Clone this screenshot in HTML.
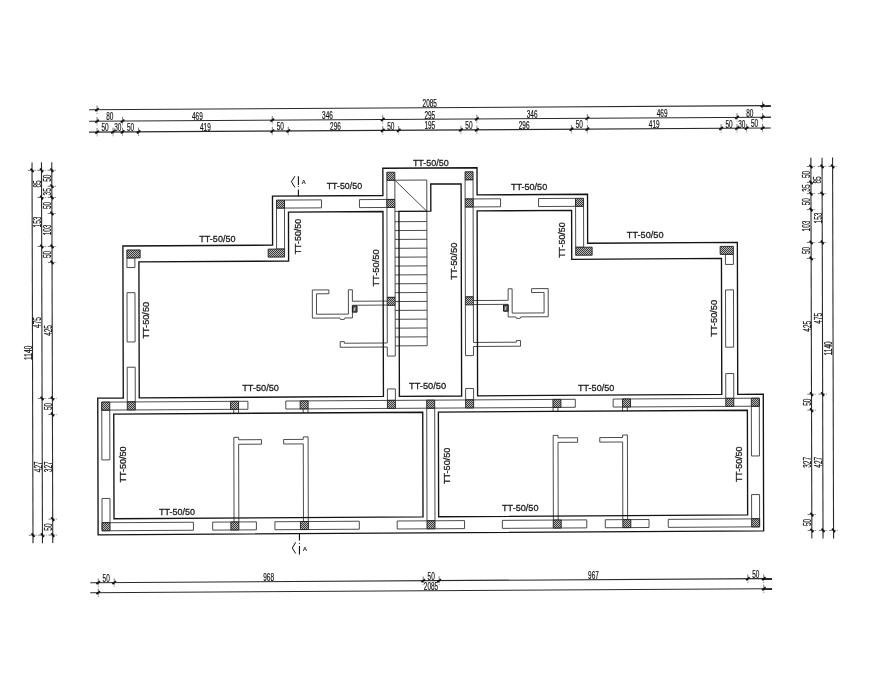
<!DOCTYPE html><html><head><meta charset="utf-8"><style>html,body{margin:0;padding:0;background:#fff}svg{display:block;filter:grayscale(1)}</style></head><body><svg width="869" height="698" viewBox="0 0 869 698">
<defs><pattern id="hp" patternUnits="userSpaceOnUse" width="2" height="2"><rect width="2" height="2" fill="#b8b8b8"/><rect width="1" height="1" fill="#3a3a3a"/><rect x="1" y="1" width="1" height="1" fill="#3a3a3a"/></pattern></defs>
<rect width="869" height="698" fill="#fff"/>
<style>.tk{fill:none;stroke:#141414;stroke-width:1.35;stroke-linejoin:miter}.tn{fill:none;stroke:#383838;stroke-width:0.9}.hc{fill:url(#hp);stroke:#1e1e1e;stroke-width:0.9}.sy{fill:#606060;stroke:#1a1a1a;stroke-width:1}.dl{fill:none;stroke:#2a2a2a;stroke-width:1.1}.tkx{fill:none;stroke:#111;stroke-width:1.8}.tv{fill:none;stroke:#555;stroke-width:0.8;stroke-dasharray:3 0.8}.lb{font-family:"Liberation Sans",sans-serif;fill:#1a1a1a;stroke:#1a1a1a;stroke-width:0.28}.dt{font-family:"Liberation Sans",sans-serif;fill:#111;stroke:#111;stroke-width:0.2;font-size:11px}</style>
<polygon class="tn" points="126.91,257.98 134.89,257.93 134.92,267.53 126.94,267.58"/>
<polygon class="tn" points="127.00,292.70 134.98,292.65 135.11,341.93 127.13,341.98"/>
<polygon class="tn" points="127.20,367.26 135.18,367.21 135.27,401.93 127.29,401.98"/>
<polygon class="tn" points="725.41,254.38 733.39,254.33 733.42,264.41 725.44,264.46"/>
<polygon class="tn" points="725.51,289.93 733.49,289.89 733.64,347.17 725.66,347.21"/>
<polygon class="tn" points="725.72,373.58 733.70,373.53 733.77,398.33 725.79,398.38"/>
<polygon class="tn" points="276.49,208.12 284.47,208.07 284.58,249.03 276.60,249.08"/>
<polygon class="tn" points="575.58,206.32 583.56,206.27 583.67,247.23 575.69,247.28"/>
<polygon class="tn" points="284.45,200.07 321.48,199.85 321.50,207.85 284.47,208.07"/>
<polygon class="tn" points="538.53,198.55 575.56,198.32 575.58,206.32 538.56,206.55"/>
<polygon class="tn" points="359.46,199.62 386.91,199.46 386.94,207.46 359.48,207.62"/>
<polygon class="tn" points="473.10,198.94 500.55,198.77 500.57,206.77 473.12,206.94"/>
<polygon class="tn" points="386.87,180.26 394.85,180.21 394.89,199.41 386.91,199.46"/>
<polygon class="tn" points="465.07,179.79 473.05,179.74 473.10,198.94 465.12,198.99"/>
<polygon class="tn" points="386.94,207.46 394.92,207.41 395.15,297.33 387.17,297.38"/>
<polygon class="tn" points="465.14,206.99 473.12,206.94 473.35,296.86 465.37,296.91"/>
<polygon class="tn" points="387.41,388.96 395.39,388.91 395.42,400.37 387.44,400.42"/>
<polygon class="tn" points="465.61,388.49 473.59,388.44 473.62,399.90 465.64,399.95"/>
<polygon class="tn" points="101.75,402.14 247.91,401.26 247.93,409.26 101.77,410.14"/>
<polygon class="tn" points="613.14,399.06 759.30,398.18 759.32,406.18 613.16,407.06"/>
<polygon class="tn" points="285.77,401.03 575.29,399.29 575.31,407.29 285.79,409.03"/>
<polygon class="tn" points="101.77,410.14 109.75,410.09 109.88,459.85 101.90,459.90"/>
<polygon class="tn" points="751.34,406.23 759.32,406.18 759.45,455.94 751.47,455.99"/>
<polygon class="tn" points="102.00,498.49 109.98,498.44 110.05,522.73 102.07,522.78"/>
<polygon class="tn" points="751.57,494.58 759.55,494.53 759.62,518.82 751.64,518.87"/>
<polygon class="tn" points="102.07,522.78 193.42,522.23 193.44,530.23 102.09,530.78"/>
<polygon class="tn" points="668.26,519.37 759.62,518.82 759.64,526.82 668.28,527.37"/>
<polygon class="tn" points="212.67,522.11 256.40,521.85 256.42,529.85 212.69,530.11"/>
<polygon class="tn" points="605.28,519.75 649.01,519.49 649.04,527.49 605.30,527.75"/>
<polygon class="tn" points="274.91,521.74 359.31,521.23 359.33,529.23 274.93,529.74"/>
<polygon class="tn" points="502.37,520.37 586.77,519.86 586.79,527.86 502.39,528.37"/>
<polygon class="tn" points="397.17,521.00 464.52,520.60 464.54,528.60 397.19,529.00"/>
<polygon class="tn" points="426.72,408.18 434.70,408.13 434.99,520.77 427.01,520.82"/>
<polyline class="tn" points="234.05,521.98 233.83,437.34 238.62,437.31 238.63,439.78 261.48,439.64 261.50,444.15 238.64,444.29 238.84,521.95"/>
<polyline class="tn" points="627.63,519.61 627.41,434.97 622.62,435.00 622.63,437.47 599.77,437.60 599.78,442.12 622.64,441.98 622.84,519.64"/>
<polyline class="tn" points="233.76,409.34 233.77,413.34"/>
<polyline class="tn" points="627.34,406.97 627.35,410.97"/>
<polyline class="tn" points="238.55,409.31 238.56,413.31"/>
<polyline class="tn" points="622.55,407.00 622.56,411.00"/>
<polyline class="tn" points="308.30,521.54 308.08,436.90 303.26,436.92 303.27,439.39 283.64,439.51 283.65,444.02 303.28,443.90 303.48,521.56"/>
<polyline class="tn" points="553.38,520.06 553.16,435.42 557.98,435.39 557.99,437.86 577.62,437.74 577.63,442.25 558.00,442.37 558.20,520.03"/>
<polyline class="tn" points="303.19,408.92 303.20,412.92"/>
<polyline class="tn" points="557.91,407.39 557.92,411.39"/>
<polyline class="tn" points="308.01,408.90 308.02,412.90"/>
<polyline class="tn" points="553.09,407.42 553.10,411.42"/>
<polyline class="tn" points="387.18,301.06 352.39,301.27 352.36,289.75 348.37,289.77 348.43,314.09 316.51,314.28 316.46,293.80 328.90,293.73 328.89,289.89 312.30,289.99 312.37,318.15 339.82,317.98 340.46,319.42 344.29,319.40 344.93,317.95 352.43,317.91 352.40,305.27 387.19,305.06"/>
<polyline class="tn" points="473.36,300.54 508.16,300.33 508.13,288.81 512.12,288.79 512.18,313.11 544.10,312.91 544.05,292.43 531.60,292.51 531.59,288.67 548.18,288.57 548.26,316.73 520.81,316.89 520.17,318.34 516.34,318.36 515.70,316.92 508.20,316.97 508.17,304.33 473.37,304.54"/>
<polyline class="tn" points="387.29,342.98 344.35,343.24 344.35,341.64 340.20,341.66 340.22,347.29 387.30,347.01"/>
<polyline class="tn" points="473.47,342.46 516.40,342.20 516.40,340.60 520.55,340.58 520.56,346.21 473.48,346.49"/>
<polyline class="tn" points="387.19,305.38 387.29,342.98"/>
<polyline class="tn" points="473.37,304.86 473.47,342.46"/>
<polyline class="tn" points="395.17,305.33 395.30,356.05 387.32,356.10 387.30,347.01"/>
<polyline class="tn" points="465.39,304.91 465.53,355.63 473.51,355.58 473.48,346.49"/>
<polyline class="tn" points="394.85,180.21 426.77,180.02 427.19,345.71"/>
<polyline class="tn" points="394.85,180.21 426.85,211.22"/>
<polyline class="tn" points="394.93,211.41 426.85,211.22"/>
<polyline class="tn" points="394.95,221.71 426.87,221.52"/>
<polyline class="tn" points="394.98,230.58 426.90,230.39"/>
<polyline class="tn" points="395.00,239.45 426.92,239.26"/>
<polyline class="tn" points="395.02,248.32 426.94,248.13"/>
<polyline class="tn" points="395.04,257.20 426.96,257.00"/>
<polyline class="tn" points="395.07,266.07 426.99,265.87"/>
<polyline class="tn" points="395.09,274.94 427.01,274.74"/>
<polyline class="tn" points="395.11,283.81 427.03,283.61"/>
<polyline class="tn" points="395.14,292.68 427.06,292.48"/>
<polyline class="tn" points="395.16,301.55 427.08,301.36"/>
<polyline class="tn" points="395.18,310.42 427.10,310.23"/>
<polyline class="tn" points="395.21,319.29 427.13,319.10"/>
<polyline class="tn" points="395.23,328.16 427.15,327.97"/>
<polyline class="tn" points="395.25,337.03 427.17,336.84"/>
<polyline class="tn" points="395.27,345.90 427.19,345.71"/>
<polygon class="hc" points="126.89,249.98 140.14,249.90 140.16,257.90 126.91,257.98"/>
<polygon class="hc" points="720.13,246.41 733.37,246.33 733.39,254.33 720.15,254.41"/>
<polygon class="hc" points="268.14,249.13 284.58,249.03 284.60,257.03 268.16,257.13"/>
<polygon class="hc" points="575.69,247.28 592.13,247.18 592.15,255.18 575.71,255.28"/>
<polygon class="hc" points="276.47,200.12 284.45,200.07 284.47,208.07 276.49,208.12"/>
<polygon class="hc" points="575.56,198.32 583.54,198.27 583.56,206.27 575.58,206.32"/>
<polygon class="hc" points="386.84,172.26 394.82,172.21 394.85,180.21 386.87,180.26"/>
<polygon class="hc" points="465.05,171.79 473.03,171.74 473.05,179.74 465.07,179.79"/>
<polygon class="hc" points="386.91,199.46 394.89,199.41 394.92,207.41 386.94,207.46"/>
<polygon class="hc" points="465.12,198.99 473.10,198.94 473.12,206.94 465.14,206.99"/>
<polygon class="hc" points="387.17,297.38 395.15,297.33 395.17,305.33 387.19,305.38"/>
<polygon class="hc" points="465.37,296.91 473.35,296.86 473.37,304.86 465.39,304.91"/>
<polygon class="hc" points="387.44,400.42 395.42,400.37 395.44,408.37 387.46,408.42"/>
<polygon class="hc" points="465.64,399.95 473.62,399.90 473.64,407.90 465.66,407.95"/>
<polygon class="hc" points="101.75,402.14 109.73,402.09 109.75,410.09 101.77,410.14"/>
<polygon class="hc" points="751.32,398.23 759.30,398.18 759.32,406.18 751.34,406.23"/>
<polygon class="hc" points="127.29,401.98 135.27,401.93 135.29,409.93 127.31,409.98"/>
<polygon class="hc" points="725.79,398.38 733.77,398.33 733.79,406.33 725.81,406.38"/>
<polygon class="hc" points="230.55,401.36 238.53,401.31 238.55,409.31 230.57,409.36"/>
<polygon class="hc" points="622.53,399.00 630.51,398.96 630.53,406.96 622.55,407.00"/>
<polygon class="hc" points="300.13,400.94 308.11,400.89 308.14,408.89 300.16,408.94"/>
<polygon class="hc" points="552.94,399.42 560.92,399.37 560.94,407.37 552.96,407.42"/>
<polygon class="hc" points="102.07,522.78 110.05,522.73 110.07,530.73 102.09,530.78"/>
<polygon class="hc" points="751.64,518.87 759.62,518.82 759.64,526.82 751.66,526.87"/>
<polygon class="hc" points="230.86,522.00 238.84,521.95 238.86,529.95 230.88,530.00"/>
<polygon class="hc" points="622.84,519.64 630.82,519.60 630.84,527.60 622.86,527.64"/>
<polygon class="hc" points="300.45,521.58 308.43,521.53 308.45,529.53 300.47,529.58"/>
<polygon class="hc" points="553.25,520.06 561.23,520.01 561.26,528.01 553.28,528.06"/>
<polygon class="hc" points="426.70,400.18 434.68,400.13 434.70,408.13 426.72,408.18"/>
<polygon class="hc" points="427.01,520.82 434.99,520.77 435.01,528.77 427.03,528.82"/>
<polygon class="sy" points="352.40,305.91 357.03,305.88 357.04,312.12 352.41,312.15"/>
<line x1="354.95" y1="307.45" x2="354.03" y2="310.89" stroke="#ddd" stroke-width="0.9"/>
<polygon class="sy" points="503.54,305.00 508.17,304.97 508.18,311.21 503.56,311.24"/>
<line x1="506.09" y1="306.54" x2="505.17" y2="309.98" stroke="#ddd" stroke-width="0.9"/>
<polygon class="tk" points="382.84,168.28 477.01,167.72 477.08,194.92 587.52,194.25 587.65,243.21 737.35,242.31 737.75,394.31 763.28,394.16 763.64,530.80 98.11,534.80 97.75,398.16 123.29,398.01 122.89,246.01 272.60,245.11 272.47,196.15 382.91,195.48"/>
<polygon class="tk" points="138.90,261.91 288.60,261.01 288.47,212.05 382.96,211.48 383.44,396.44 139.25,397.91"/>
<polygon class="tk" points="721.44,258.41 571.73,259.31 571.60,210.35 477.12,210.92 477.60,395.88 721.79,394.41"/>
<polygon class="tk" points="399.40,396.35 398.92,211.39 430.84,211.19 430.77,183.99 461.09,183.81 461.64,395.97"/>
<polygon class="tk" points="113.75,414.06 422.74,412.21 423.01,516.85 114.02,518.70"/>
<polygon class="tk" points="438.38,412.11 747.37,410.25 747.64,514.89 438.65,516.75"/>
<line class="dl" x1="89.02" y1="109.73" x2="770.83" y2="105.63"/>
<line class="tv" x1="97.00" y1="105.48" x2="97.00" y2="113.88"/>
<line class="tkx" x1="95.20" y1="111.08" x2="98.80" y2="108.28"/>
<line class="tv" x1="762.54" y1="101.48" x2="762.54" y2="109.88"/>
<line class="tkx" x1="760.74" y1="107.08" x2="764.34" y2="104.28"/>
<text class="dt" x="429.77" y="106.98" text-anchor="middle" textLength="14.4" lengthAdjust="spacingAndGlyphs">2085</text>
<line class="dl" x1="89.05" y1="121.25" x2="770.86" y2="117.15"/>
<line class="tv" x1="97.03" y1="117.00" x2="97.03" y2="125.40"/>
<line class="tkx" x1="95.23" y1="122.60" x2="98.83" y2="119.80"/>
<line class="tv" x1="122.57" y1="116.85" x2="122.57" y2="125.25"/>
<line class="tkx" x1="120.77" y1="122.45" x2="124.37" y2="119.65"/>
<line class="tv" x1="272.27" y1="115.95" x2="272.27" y2="124.35"/>
<line class="tkx" x1="270.47" y1="121.55" x2="274.07" y2="118.75"/>
<line class="tv" x1="382.72" y1="115.28" x2="382.72" y2="123.68"/>
<line class="tkx" x1="380.92" y1="120.88" x2="384.52" y2="118.08"/>
<line class="tv" x1="476.88" y1="114.72" x2="476.88" y2="123.12"/>
<line class="tkx" x1="475.08" y1="120.32" x2="478.68" y2="117.52"/>
<line class="tv" x1="587.32" y1="114.05" x2="587.32" y2="122.45"/>
<line class="tkx" x1="585.52" y1="119.65" x2="589.12" y2="116.85"/>
<line class="tv" x1="737.03" y1="113.15" x2="737.03" y2="121.55"/>
<line class="tkx" x1="735.23" y1="118.75" x2="738.83" y2="115.95"/>
<line class="tv" x1="762.57" y1="113.00" x2="762.57" y2="121.40"/>
<line class="tkx" x1="760.77" y1="118.60" x2="764.37" y2="115.80"/>
<text class="dt" x="109.80" y="120.42" text-anchor="middle" textLength="7.2" lengthAdjust="spacingAndGlyphs">80</text>
<text class="dt" x="197.42" y="119.90" text-anchor="middle" textLength="10.8" lengthAdjust="spacingAndGlyphs">469</text>
<text class="dt" x="327.50" y="119.11" text-anchor="middle" textLength="10.8" lengthAdjust="spacingAndGlyphs">346</text>
<text class="dt" x="429.80" y="118.50" text-anchor="middle" textLength="10.8" lengthAdjust="spacingAndGlyphs">295</text>
<text class="dt" x="532.10" y="117.88" text-anchor="middle" textLength="10.8" lengthAdjust="spacingAndGlyphs">346</text>
<text class="dt" x="662.18" y="117.10" text-anchor="middle" textLength="10.8" lengthAdjust="spacingAndGlyphs">469</text>
<text class="dt" x="749.80" y="116.57" text-anchor="middle" textLength="7.2" lengthAdjust="spacingAndGlyphs">80</text>
<line class="dl" x1="89.08" y1="132.13" x2="770.89" y2="128.03"/>
<line class="tv" x1="97.06" y1="127.88" x2="97.06" y2="136.28"/>
<line class="tkx" x1="95.26" y1="133.48" x2="98.86" y2="130.68"/>
<line class="tv" x1="113.02" y1="127.78" x2="113.02" y2="136.18"/>
<line class="tkx" x1="111.22" y1="133.38" x2="114.82" y2="130.58"/>
<line class="tv" x1="122.60" y1="127.73" x2="122.60" y2="136.13"/>
<line class="tkx" x1="120.80" y1="133.33" x2="124.40" y2="130.53"/>
<line class="tv" x1="138.56" y1="127.63" x2="138.56" y2="136.03"/>
<line class="tkx" x1="136.76" y1="133.23" x2="140.36" y2="130.43"/>
<line class="tv" x1="272.30" y1="126.83" x2="272.30" y2="135.23"/>
<line class="tkx" x1="270.50" y1="132.43" x2="274.10" y2="129.63"/>
<line class="tv" x1="288.26" y1="126.73" x2="288.26" y2="135.13"/>
<line class="tkx" x1="286.46" y1="132.33" x2="290.06" y2="129.53"/>
<line class="tv" x1="382.75" y1="126.16" x2="382.75" y2="134.56"/>
<line class="tkx" x1="380.95" y1="131.76" x2="384.55" y2="128.96"/>
<line class="tv" x1="398.71" y1="126.07" x2="398.71" y2="134.47"/>
<line class="tkx" x1="396.91" y1="131.67" x2="400.51" y2="128.87"/>
<line class="tv" x1="460.95" y1="125.69" x2="460.95" y2="134.09"/>
<line class="tkx" x1="459.15" y1="131.29" x2="462.75" y2="128.49"/>
<line class="tv" x1="476.91" y1="125.60" x2="476.91" y2="134.00"/>
<line class="tkx" x1="475.11" y1="131.20" x2="478.71" y2="128.40"/>
<line class="tv" x1="571.39" y1="125.03" x2="571.39" y2="133.43"/>
<line class="tkx" x1="569.59" y1="130.63" x2="573.19" y2="127.83"/>
<line class="tv" x1="587.35" y1="124.93" x2="587.35" y2="133.33"/>
<line class="tkx" x1="585.55" y1="130.53" x2="589.15" y2="127.73"/>
<line class="tv" x1="721.10" y1="124.13" x2="721.10" y2="132.53"/>
<line class="tkx" x1="719.30" y1="129.73" x2="722.90" y2="126.93"/>
<line class="tv" x1="737.06" y1="124.03" x2="737.06" y2="132.43"/>
<line class="tkx" x1="735.26" y1="129.63" x2="738.86" y2="126.83"/>
<line class="tv" x1="746.63" y1="123.97" x2="746.63" y2="132.37"/>
<line class="tkx" x1="744.83" y1="129.57" x2="748.43" y2="126.77"/>
<line class="tv" x1="762.59" y1="123.88" x2="762.59" y2="132.28"/>
<line class="tkx" x1="760.79" y1="129.48" x2="764.39" y2="126.68"/>
<text class="dt" x="105.04" y="131.33" text-anchor="middle" textLength="7.2" lengthAdjust="spacingAndGlyphs">50</text>
<text class="dt" x="117.81" y="131.26" text-anchor="middle" textLength="7.2" lengthAdjust="spacingAndGlyphs">30</text>
<text class="dt" x="130.58" y="131.18" text-anchor="middle" textLength="7.2" lengthAdjust="spacingAndGlyphs">50</text>
<text class="dt" x="205.43" y="130.73" text-anchor="middle" textLength="10.8" lengthAdjust="spacingAndGlyphs">419</text>
<text class="dt" x="280.28" y="130.28" text-anchor="middle" textLength="7.2" lengthAdjust="spacingAndGlyphs">50</text>
<text class="dt" x="335.50" y="129.95" text-anchor="middle" textLength="10.8" lengthAdjust="spacingAndGlyphs">296</text>
<text class="dt" x="390.73" y="129.61" text-anchor="middle" textLength="7.2" lengthAdjust="spacingAndGlyphs">50</text>
<text class="dt" x="429.83" y="129.38" text-anchor="middle" textLength="10.8" lengthAdjust="spacingAndGlyphs">195</text>
<text class="dt" x="468.93" y="129.14" text-anchor="middle" textLength="7.2" lengthAdjust="spacingAndGlyphs">50</text>
<text class="dt" x="524.15" y="128.81" text-anchor="middle" textLength="10.8" lengthAdjust="spacingAndGlyphs">296</text>
<text class="dt" x="579.37" y="128.48" text-anchor="middle" textLength="7.2" lengthAdjust="spacingAndGlyphs">50</text>
<text class="dt" x="654.23" y="128.03" text-anchor="middle" textLength="10.8" lengthAdjust="spacingAndGlyphs">419</text>
<text class="dt" x="729.08" y="127.58" text-anchor="middle" textLength="7.2" lengthAdjust="spacingAndGlyphs">50</text>
<text class="dt" x="741.85" y="127.50" text-anchor="middle" textLength="7.2" lengthAdjust="spacingAndGlyphs">30</text>
<text class="dt" x="754.61" y="127.42" text-anchor="middle" textLength="7.2" lengthAdjust="spacingAndGlyphs">50</text>
<line class="dl" x1="90.25" y1="582.69" x2="772.06" y2="578.59"/>
<line class="tv" x1="98.23" y1="578.44" x2="98.23" y2="586.84"/>
<line class="tkx" x1="96.43" y1="584.04" x2="100.03" y2="581.24"/>
<line class="tv" x1="114.19" y1="578.34" x2="114.19" y2="586.74"/>
<line class="tkx" x1="112.39" y1="583.94" x2="115.99" y2="581.14"/>
<line class="tv" x1="423.18" y1="576.49" x2="423.18" y2="584.89"/>
<line class="tkx" x1="421.38" y1="582.09" x2="424.98" y2="579.29"/>
<line class="tv" x1="439.14" y1="576.39" x2="439.14" y2="584.79"/>
<line class="tkx" x1="437.34" y1="581.99" x2="440.94" y2="579.19"/>
<line class="tv" x1="747.80" y1="574.53" x2="747.80" y2="582.93"/>
<line class="tkx" x1="746.00" y1="580.13" x2="749.60" y2="577.33"/>
<line class="tv" x1="763.76" y1="574.44" x2="763.76" y2="582.84"/>
<line class="tkx" x1="761.96" y1="580.04" x2="765.56" y2="577.24"/>
<text class="dt" x="106.21" y="581.89" text-anchor="middle" textLength="7.2" lengthAdjust="spacingAndGlyphs">50</text>
<text class="dt" x="268.68" y="580.91" text-anchor="middle" textLength="10.8" lengthAdjust="spacingAndGlyphs">968</text>
<text class="dt" x="431.16" y="579.94" text-anchor="middle" textLength="7.2" lengthAdjust="spacingAndGlyphs">50</text>
<text class="dt" x="593.47" y="578.96" text-anchor="middle" textLength="10.8" lengthAdjust="spacingAndGlyphs">967</text>
<text class="dt" x="755.78" y="577.98" text-anchor="middle" textLength="7.2" lengthAdjust="spacingAndGlyphs">50</text>
<line class="dl" x1="90.28" y1="592.77" x2="772.09" y2="588.67"/>
<line class="tv" x1="98.26" y1="588.52" x2="98.26" y2="596.92"/>
<line class="tkx" x1="96.46" y1="594.12" x2="100.06" y2="591.32"/>
<line class="tv" x1="763.79" y1="584.52" x2="763.79" y2="592.92"/>
<line class="tkx" x1="761.99" y1="590.12" x2="765.59" y2="587.32"/>
<text class="dt" x="431.02" y="590.02" text-anchor="middle" textLength="14.4" lengthAdjust="spacingAndGlyphs">2085</text>
<line class="dl" x1="32.02" y1="162.39" x2="33.01" y2="543.19"/>
<line class="tv" x1="27.84" y1="170.39" x2="36.24" y2="170.39"/>
<line class="tkx" x1="30.64" y1="168.59" x2="33.44" y2="172.19"/>
<line class="tv" x1="28.79" y1="535.19" x2="37.19" y2="535.19"/>
<line class="tkx" x1="31.59" y1="533.39" x2="34.39" y2="536.99"/>
<text class="dt" transform="translate(31.82,352.79) rotate(-90)" text-anchor="middle" textLength="14.4" lengthAdjust="spacingAndGlyphs">1140</text>
<line class="dl" x1="41.47" y1="162.33" x2="42.46" y2="543.13"/>
<line class="tv" x1="37.29" y1="170.33" x2="45.69" y2="170.33"/>
<line class="tkx" x1="40.09" y1="168.53" x2="42.89" y2="172.13"/>
<line class="tv" x1="37.36" y1="197.53" x2="45.76" y2="197.53"/>
<line class="tkx" x1="40.16" y1="195.73" x2="42.96" y2="199.33"/>
<line class="tv" x1="37.49" y1="246.49" x2="45.89" y2="246.49"/>
<line class="tkx" x1="40.29" y1="244.69" x2="43.09" y2="248.29"/>
<line class="tv" x1="37.88" y1="398.49" x2="46.28" y2="398.49"/>
<line class="tkx" x1="40.68" y1="396.69" x2="43.48" y2="400.29"/>
<line class="tv" x1="38.24" y1="535.13" x2="46.64" y2="535.13"/>
<line class="tkx" x1="41.04" y1="533.33" x2="43.84" y2="536.93"/>
<text class="dt" transform="translate(40.83,183.93) rotate(-90)" text-anchor="middle" textLength="7.2" lengthAdjust="spacingAndGlyphs">85</text>
<text class="dt" transform="translate(40.93,222.01) rotate(-90)" text-anchor="middle" textLength="10.8" lengthAdjust="spacingAndGlyphs">153</text>
<text class="dt" transform="translate(41.19,322.49) rotate(-90)" text-anchor="middle" textLength="10.8" lengthAdjust="spacingAndGlyphs">475</text>
<text class="dt" transform="translate(41.56,466.81) rotate(-90)" text-anchor="middle" textLength="10.8" lengthAdjust="spacingAndGlyphs">427</text>
<line class="dl" x1="51.78" y1="162.27" x2="52.77" y2="543.07"/>
<line class="tv" x1="47.60" y1="170.27" x2="56.00" y2="170.27"/>
<line class="tkx" x1="50.40" y1="168.47" x2="53.20" y2="172.07"/>
<line class="tv" x1="47.64" y1="186.27" x2="56.04" y2="186.27"/>
<line class="tkx" x1="50.44" y1="184.47" x2="53.24" y2="188.07"/>
<line class="tv" x1="47.67" y1="197.47" x2="56.07" y2="197.47"/>
<line class="tkx" x1="50.47" y1="195.67" x2="53.27" y2="199.27"/>
<line class="tv" x1="47.71" y1="213.47" x2="56.11" y2="213.47"/>
<line class="tkx" x1="50.51" y1="211.67" x2="53.31" y2="215.27"/>
<line class="tv" x1="47.80" y1="246.43" x2="56.20" y2="246.43"/>
<line class="tkx" x1="50.60" y1="244.63" x2="53.40" y2="248.23"/>
<line class="tv" x1="47.84" y1="262.43" x2="56.24" y2="262.43"/>
<line class="tkx" x1="50.64" y1="260.63" x2="53.44" y2="264.23"/>
<line class="tv" x1="48.19" y1="398.43" x2="56.59" y2="398.43"/>
<line class="tkx" x1="50.99" y1="396.63" x2="53.79" y2="400.23"/>
<line class="tv" x1="48.23" y1="414.43" x2="56.63" y2="414.43"/>
<line class="tkx" x1="51.03" y1="412.63" x2="53.83" y2="416.23"/>
<line class="tv" x1="48.51" y1="519.07" x2="56.91" y2="519.07"/>
<line class="tkx" x1="51.31" y1="517.27" x2="54.11" y2="520.87"/>
<line class="tv" x1="48.55" y1="535.07" x2="56.95" y2="535.07"/>
<line class="tkx" x1="51.35" y1="533.27" x2="54.15" y2="536.87"/>
<text class="dt" transform="translate(51.12,178.27) rotate(-90)" text-anchor="middle" textLength="7.2" lengthAdjust="spacingAndGlyphs">50</text>
<text class="dt" transform="translate(51.16,191.87) rotate(-90)" text-anchor="middle" textLength="7.2" lengthAdjust="spacingAndGlyphs">35</text>
<text class="dt" transform="translate(51.19,205.47) rotate(-90)" text-anchor="middle" textLength="7.2" lengthAdjust="spacingAndGlyphs">50</text>
<text class="dt" transform="translate(51.26,229.95) rotate(-90)" text-anchor="middle" textLength="10.8" lengthAdjust="spacingAndGlyphs">103</text>
<text class="dt" transform="translate(51.32,254.43) rotate(-90)" text-anchor="middle" textLength="7.2" lengthAdjust="spacingAndGlyphs">50</text>
<text class="dt" transform="translate(51.52,330.43) rotate(-90)" text-anchor="middle" textLength="10.8" lengthAdjust="spacingAndGlyphs">425</text>
<text class="dt" transform="translate(51.71,406.43) rotate(-90)" text-anchor="middle" textLength="7.2" lengthAdjust="spacingAndGlyphs">50</text>
<text class="dt" transform="translate(51.87,466.75) rotate(-90)" text-anchor="middle" textLength="10.8" lengthAdjust="spacingAndGlyphs">327</text>
<text class="dt" transform="translate(52.03,527.07) rotate(-90)" text-anchor="middle" textLength="7.2" lengthAdjust="spacingAndGlyphs">50</text>
<line class="dl" x1="810.87" y1="157.71" x2="811.86" y2="538.51"/>
<line class="tv" x1="806.69" y1="166.51" x2="815.09" y2="166.51"/>
<line class="tkx" x1="809.49" y1="164.71" x2="812.29" y2="168.31"/>
<line class="tv" x1="806.73" y1="182.47" x2="815.13" y2="182.47"/>
<line class="tkx" x1="809.53" y1="180.67" x2="812.33" y2="184.27"/>
<line class="tv" x1="806.76" y1="193.65" x2="815.16" y2="193.65"/>
<line class="tkx" x1="809.56" y1="191.85" x2="812.36" y2="195.45"/>
<line class="tv" x1="806.81" y1="209.61" x2="815.21" y2="209.61"/>
<line class="tkx" x1="809.61" y1="207.81" x2="812.41" y2="211.41"/>
<line class="tv" x1="806.89" y1="242.50" x2="815.29" y2="242.50"/>
<line class="tkx" x1="809.69" y1="240.70" x2="812.49" y2="244.30"/>
<line class="tv" x1="806.93" y1="258.46" x2="815.33" y2="258.46"/>
<line class="tkx" x1="809.73" y1="256.66" x2="812.53" y2="260.26"/>
<line class="tv" x1="807.28" y1="394.17" x2="815.68" y2="394.17"/>
<line class="tkx" x1="810.08" y1="392.37" x2="812.88" y2="395.97"/>
<line class="tv" x1="807.33" y1="410.13" x2="815.73" y2="410.13"/>
<line class="tkx" x1="810.13" y1="408.33" x2="812.93" y2="411.93"/>
<line class="tv" x1="807.60" y1="514.54" x2="816.00" y2="514.54"/>
<line class="tkx" x1="810.40" y1="512.74" x2="813.20" y2="516.34"/>
<line class="tv" x1="807.64" y1="530.51" x2="816.04" y2="530.51"/>
<line class="tkx" x1="810.44" y1="528.71" x2="813.24" y2="532.31"/>
<text class="dt" transform="translate(810.21,174.49) rotate(-90)" text-anchor="middle" textLength="7.2" lengthAdjust="spacingAndGlyphs">50</text>
<text class="dt" transform="translate(810.25,188.06) rotate(-90)" text-anchor="middle" textLength="7.2" lengthAdjust="spacingAndGlyphs">35</text>
<text class="dt" transform="translate(810.28,201.63) rotate(-90)" text-anchor="middle" textLength="7.2" lengthAdjust="spacingAndGlyphs">50</text>
<text class="dt" transform="translate(810.35,226.06) rotate(-90)" text-anchor="middle" textLength="10.8" lengthAdjust="spacingAndGlyphs">103</text>
<text class="dt" transform="translate(810.41,250.48) rotate(-90)" text-anchor="middle" textLength="7.2" lengthAdjust="spacingAndGlyphs">50</text>
<text class="dt" transform="translate(810.61,326.32) rotate(-90)" text-anchor="middle" textLength="10.8" lengthAdjust="spacingAndGlyphs">425</text>
<text class="dt" transform="translate(810.80,402.15) rotate(-90)" text-anchor="middle" textLength="7.2" lengthAdjust="spacingAndGlyphs">50</text>
<text class="dt" transform="translate(810.96,462.34) rotate(-90)" text-anchor="middle" textLength="10.8" lengthAdjust="spacingAndGlyphs">327</text>
<text class="dt" transform="translate(811.12,522.52) rotate(-90)" text-anchor="middle" textLength="7.2" lengthAdjust="spacingAndGlyphs">50</text>
<line class="dl" x1="822.04" y1="157.64" x2="823.03" y2="538.44"/>
<line class="tv" x1="817.87" y1="166.44" x2="826.27" y2="166.44"/>
<line class="tkx" x1="820.67" y1="164.64" x2="823.47" y2="168.24"/>
<line class="tv" x1="817.94" y1="193.58" x2="826.34" y2="193.58"/>
<line class="tkx" x1="820.74" y1="191.78" x2="823.54" y2="195.38"/>
<line class="tv" x1="818.06" y1="242.43" x2="826.46" y2="242.43"/>
<line class="tkx" x1="820.86" y1="240.63" x2="823.66" y2="244.23"/>
<line class="tv" x1="818.46" y1="394.10" x2="826.86" y2="394.10"/>
<line class="tkx" x1="821.26" y1="392.30" x2="824.06" y2="395.90"/>
<line class="tv" x1="818.81" y1="530.44" x2="827.21" y2="530.44"/>
<line class="tkx" x1="821.61" y1="528.64" x2="824.41" y2="532.24"/>
<text class="dt" transform="translate(821.40,180.01) rotate(-90)" text-anchor="middle" textLength="7.2" lengthAdjust="spacingAndGlyphs">85</text>
<text class="dt" transform="translate(821.50,218.01) rotate(-90)" text-anchor="middle" textLength="10.8" lengthAdjust="spacingAndGlyphs">153</text>
<text class="dt" transform="translate(821.76,318.27) rotate(-90)" text-anchor="middle" textLength="10.8" lengthAdjust="spacingAndGlyphs">475</text>
<text class="dt" transform="translate(822.13,462.27) rotate(-90)" text-anchor="middle" textLength="10.8" lengthAdjust="spacingAndGlyphs">427</text>
<line class="dl" x1="832.58" y1="157.58" x2="833.56" y2="538.38"/>
<line class="tv" x1="828.40" y1="166.38" x2="836.80" y2="166.38"/>
<line class="tkx" x1="831.20" y1="164.58" x2="834.00" y2="168.18"/>
<line class="tv" x1="829.34" y1="530.38" x2="837.74" y2="530.38"/>
<line class="tkx" x1="832.14" y1="528.58" x2="834.94" y2="532.18"/>
<text class="dt" transform="translate(832.37,348.38) rotate(-90)" text-anchor="middle" textLength="14.4" lengthAdjust="spacingAndGlyphs">1140</text>
<text class="lb" x="412.90" y="166.30" font-size="9.2" textLength="35.90" lengthAdjust="spacingAndGlyphs">TT-50/50</text>
<text class="lb" x="326.70" y="189.00" font-size="9.2" textLength="35.40" lengthAdjust="spacingAndGlyphs">TT-50/50</text>
<text class="lb" x="199.30" y="242.00" font-size="9.2" textLength="36.20" lengthAdjust="spacingAndGlyphs">TT-50/50</text>
<text class="lb" x="242.20" y="390.70" font-size="9.2" textLength="36.80" lengthAdjust="spacingAndGlyphs">TT-50/50</text>
<text class="lb" x="409.00" y="389.00" font-size="9.2" textLength="37.10" lengthAdjust="spacingAndGlyphs">TT-50/50</text>
<text class="lb" x="159.00" y="515.30" font-size="9.2" textLength="35.90" lengthAdjust="spacingAndGlyphs">TT-50/50</text>
<text class="lb" x="502.00" y="511.00" font-size="9.2" textLength="36.50" lengthAdjust="spacingAndGlyphs">TT-50/50</text>
<text class="lb" x="510.90" y="190.20" font-size="9.2" textLength="36.30" lengthAdjust="spacingAndGlyphs">TT-50/50</text>
<text class="lb" x="626.80" y="237.80" font-size="9.2" textLength="36.70" lengthAdjust="spacingAndGlyphs">TT-50/50</text>
<text class="lb" x="578.10" y="390.50" font-size="9.2" textLength="36.10" lengthAdjust="spacingAndGlyphs">TT-50/50</text>
<text class="lb" transform="translate(148.80,338.60) rotate(-90)" font-size="9.2" textLength="36.70" lengthAdjust="spacingAndGlyphs">TT-50/50</text>
<text class="lb" transform="translate(300.50,254.30) rotate(-90)" font-size="9.2" textLength="35.50" lengthAdjust="spacingAndGlyphs">TT-50/50</text>
<text class="lb" transform="translate(378.80,286.60) rotate(-90)" font-size="9.2" textLength="37.30" lengthAdjust="spacingAndGlyphs">TT-50/50</text>
<text class="lb" transform="translate(456.80,279.70) rotate(-90)" font-size="9.2" textLength="37.00" lengthAdjust="spacingAndGlyphs">TT-50/50</text>
<text class="lb" transform="translate(125.60,482.60) rotate(-90)" font-size="9.2" textLength="36.10" lengthAdjust="spacingAndGlyphs">TT-50/50</text>
<text class="lb" transform="translate(450.30,484.10) rotate(-90)" font-size="9.2" textLength="36.50" lengthAdjust="spacingAndGlyphs">TT-50/50</text>
<text class="lb" transform="translate(742.00,482.10) rotate(-90)" font-size="9.2" textLength="35.50" lengthAdjust="spacingAndGlyphs">TT-50/50</text>
<text class="lb" transform="translate(565.20,257.80) rotate(-90)" font-size="9.2" textLength="35.40" lengthAdjust="spacingAndGlyphs">TT-50/50</text>
<text class="lb" transform="translate(716.80,336.70) rotate(-90)" font-size="9.2" textLength="36.80" lengthAdjust="spacingAndGlyphs">TT-50/50</text>
<line x1="298.4" y1="176.2" x2="298.4" y2="184.9" stroke="#111" stroke-width="1.1"/>
<line x1="298.4" y1="189.5" x2="298.4" y2="196.4" stroke="#111" stroke-width="1.1"/>
<circle cx="298.4" cy="186.6" r="0.6" fill="#111"/>
<polyline points="294.9,176.2 291.4,181.7 294.9,187.4" fill="none" stroke="#111" stroke-width="1"/>
<text x="301.6" y="184.4" font-family="Liberation Sans, sans-serif" font-size="6" font-weight="bold" fill="#222">A</text>
<line x1="299.45" y1="533.5" x2="299.45" y2="540.5" stroke="#111" stroke-width="1.1"/>
<line x1="299.45" y1="546" x2="299.45" y2="554.6" stroke="#111" stroke-width="1.1"/>
<circle cx="299.45" cy="543.5" r="0.6" fill="#111"/>
<polyline points="295.7,542.3 292.3,548 295.7,553.5" fill="none" stroke="#111" stroke-width="1"/>
<text x="302.7" y="551" font-family="Liberation Sans, sans-serif" font-size="6" font-weight="bold" fill="#222">A</text>
</svg></body></html>
